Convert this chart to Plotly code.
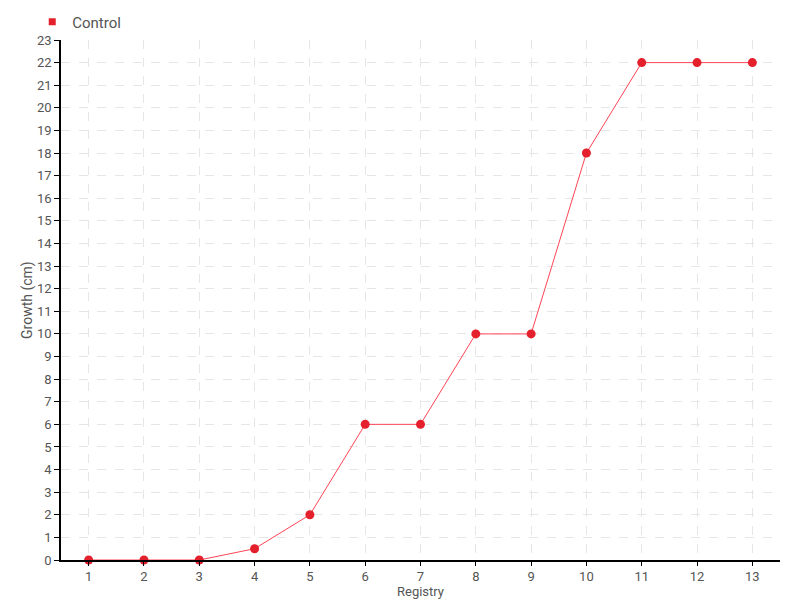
import plotly.graph_objects as go

registry = list(range(1, 14))
growth = [0, 0, 0, 0.5, 2, 6, 6, 10, 10, 18, 22, 22, 22]
series_name = "Control"
x_title = "Registry"
y_title = "Growth (cm)"

FONT = "Roboto, sans-serif"
TXT = "#555555"

fig = go.Figure()
fig.add_trace(go.Scatter(
    x=registry, y=growth, mode="lines+markers", name=series_name,
    line=dict(color="#ff4455", width=1),
    marker=dict(color="#e3202b", size=9, symbol="circle"),
    showlegend=False, cliponaxis=False,
))
# legend proxy with square marker
fig.add_trace(go.Scatter(
    x=[None], y=[None], mode="markers", name=series_name,
    marker=dict(color="#e3202b", size=7, symbol="square"),
))

axis_common = dict(
    showline=True, linecolor="black", linewidth=1.5,
    ticks="outside", tickcolor="black",
    gridcolor="#e6e6e6", griddash="dash", gridwidth=1,
    zeroline=False, automargin=False,
    tickfont=dict(family=FONT, size=13, color=TXT),
)

fig.update_xaxes(
    range=[0.5, 13.5], tickmode="array", tickvals=registry, ticklen=4,
    **axis_common,
)
fig.update_yaxes(
    range=[0, 23], tickmode="linear", dtick=1, tick0=0, ticklen=5,
    **axis_common,
)

fig.add_annotation(
    text=x_title, xref="paper", yref="paper", x=0.5, y=0,
    xanchor="center", yanchor="middle", yshift=-31, showarrow=False,
    font=dict(family=FONT, size=13, color=TXT),
)
fig.add_annotation(
    text=y_title, xref="paper", yref="paper", x=0, y=0.5,
    xanchor="center", yanchor="middle", xshift=-34, textangle=-90,
    showarrow=False, font=dict(family=FONT, size=14, color=TXT),
)

fig.update_layout(
    width=800, height=600,
    margin=dict(l=53, r=28, t=32, b=48, autoexpand=False),
    paper_bgcolor="white", plot_bgcolor="white",
    font=dict(family=FONT, color=TXT),
    legend=dict(
        x=-0.04, xanchor="left", y=1.0346, yanchor="middle", orientation="h",
        font=dict(family=FONT, size=15, color=TXT),
        itemwidth=30, tracegroupgap=0, bgcolor="rgba(0,0,0,0)",
    ),
)

fig.write_html("out.html")
